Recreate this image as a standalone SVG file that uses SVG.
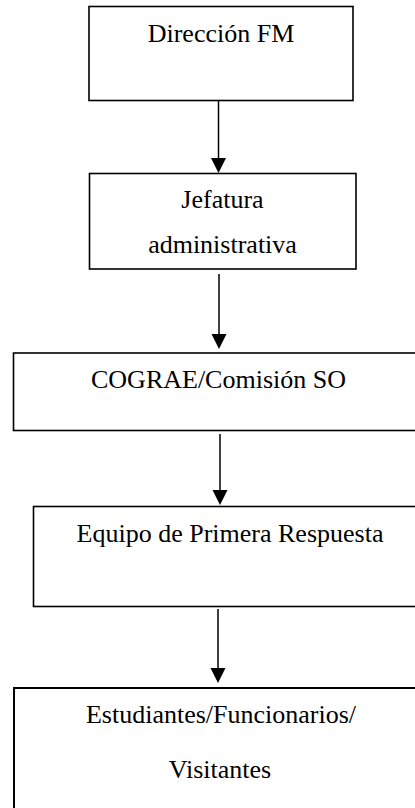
<svg xmlns="http://www.w3.org/2000/svg" width="415" height="808" viewBox="0 0 415 808">
<style>
.box{fill:#fff;stroke:#000;stroke-width:1.6}
.lbl{font-family:"Liberation Serif","Times New Roman",serif;font-size:26px;fill:#000;text-anchor:middle}
.conn{stroke:#000;stroke-width:1.5;fill:none}
</style>
<defs>
<marker id="ah" markerUnits="userSpaceOnUse" markerWidth="16" markerHeight="16" viewBox="0 0 16 16" refX="8" refY="15" orient="auto-start-reverse">
<path d="M0.5,0 L15.5,0 L8,15 Z" fill="#000" transform="rotate(-90 8 8)"/>
</marker>
</defs>
<rect width="415" height="808" fill="#fff"/>
<g id="n1"><rect class="box" x="89" y="6.5" width="264" height="94"/><text class="lbl" x="221" y="42">Dirección FM</text></g>
<g id="n2"><rect class="box" x="89.5" y="173.5" width="266.5" height="95.5"/><text class="lbl" x="222.5" y="208">Jefatura</text><text class="lbl" x="222.5" y="253">administrativa</text></g>
<g id="n3"><rect class="box" x="13.5" y="353" width="412" height="77.5"/><text class="lbl" x="218.5" y="388">COGRAE/Comisión SO</text></g>
<g id="n4"><rect class="box" x="33.5" y="506.5" width="395" height="100"/><text class="lbl" x="230" y="542">Equipo de Primera Respuesta</text></g>
<g id="n5"><rect class="box" style="stroke-width:2" x="14" y="688" width="415" height="140"/><text class="lbl" x="221" y="723">Estudiantes/Funcionarios/</text><text class="lbl" x="220" y="778">Visitantes</text></g>
<g id="connectors">
<line class="conn" x1="218.5" y1="100.5" x2="218.5" y2="160"/><polygon points="211,158 226,158 218.5,173" fill="#000"/>
<line class="conn" x1="219" y1="274" x2="219" y2="336"/><polygon points="211.5,334 226.5,334 219,349" fill="#000"/>
<line class="conn" x1="220" y1="434" x2="220" y2="492"/><polygon points="212.5,490 227.5,490 220,505" fill="#000"/>
<line class="conn" x1="218" y1="609" x2="218" y2="670"/><polygon points="210.5,668 225.5,668 218,683" fill="#000"/>
</g>
</svg>
